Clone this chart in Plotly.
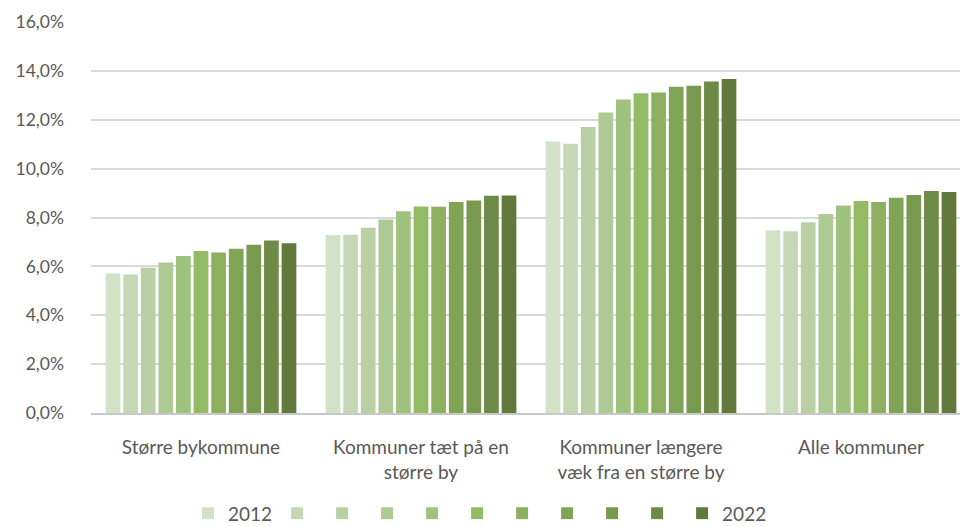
import plotly.graph_objects as go

# categories on the x axis
categories = [
    "Større bykommune",
    "Kommuner tæt på en<br>større by",
    "Kommuner længere<br>væk fra en større by",
    "Alle kommuner",
]

years = [2012, 2013, 2014, 2015, 2016, 2017, 2018, 2019, 2020, 2021, 2022]

# share in percent, one list per category (2012 .. 2022)
stoerre_bykommune = [5.71, 5.67, 5.94, 6.16, 6.42, 6.63, 6.57, 6.72, 6.88, 7.06, 6.95]
taet_paa_by = [7.28, 7.29, 7.58, 7.92, 8.26, 8.45, 8.44, 8.63, 8.70, 8.89, 8.90]
laengere_vaek = [11.11, 11.02, 11.70, 12.30, 12.83, 13.08, 13.12, 13.35, 13.39, 13.57, 13.67]
alle_kommuner = [7.48, 7.44, 7.81, 8.14, 8.49, 8.68, 8.63, 8.81, 8.92, 9.08, 9.04]

colors = ["#d2e2c6", "#c4d8b6", "#b8d0a3", "#adc994", "#9fc27f", "#93bb65",
          "#8cb060", "#80a456", "#789a4f", "#6d8b46", "#617a3c"]

series = [stoerre_bykommune, taet_paa_by, laengere_vaek, alle_kommuner]

fig = go.Figure()

for i, year in enumerate(years):
    # only the first and last year get a legend label
    label = str(year) if i in (0, len(years) - 1) else ""
    fig.add_trace(go.Bar(
        x=categories,
        y=[s[i] for s in series],
        name=label,
        marker_color=colors[i],
        marker_line_width=0,
        hovertemplate=str(year) + ": %{y:.1f}%<extra></extra>",
    ))

fig.update_layout(
    width=960,
    height=527,
    margin=dict(l=91, r=0, t=22, b=114),
    plot_bgcolor="white",
    paper_bgcolor="white",
    barmode="group",
    bargap=0.12,
    bargroupgap=0.165,
    separators=",.",
    font=dict(family="Lato", size=18, color="#595959"),
    legend=dict(
        orientation="h",
        x=0.5, xanchor="center", xref="container",
        y=0.026, yanchor="middle", yref="container",
        font=dict(size=19, color="#595959"),
        itemwidth=30,
        traceorder="normal",
    ),
    yaxis=dict(
        range=[0, 16],
        dtick=2,
        tickformat=".1f",
        ticksuffix="%",
        tickfont=dict(size=17.5),
        showgrid=True,
        gridcolor="#d9d9d9",
        gridwidth=1.5,
        zeroline=False,
        ticklabelstandoff=26,
        fixedrange=True,
    ),
    xaxis=dict(
        # the original chart is cropped a little on the right
        range=[-0.5, 3.45],
        showline=True,
        linecolor="#c8c8c8",
        linewidth=2,
        ticks="",
        ticklabelstandoff=16,
        tickfont=dict(size=19),
        fixedrange=True,
    ),
)

# drop the default page margin so the 960x527 figure fills the window
fig.write_html(
    "out.html",
    config={"displayModeBar": False},
    post_script="document.body.style.margin='0';document.body.style.overflow='hidden';",
)
